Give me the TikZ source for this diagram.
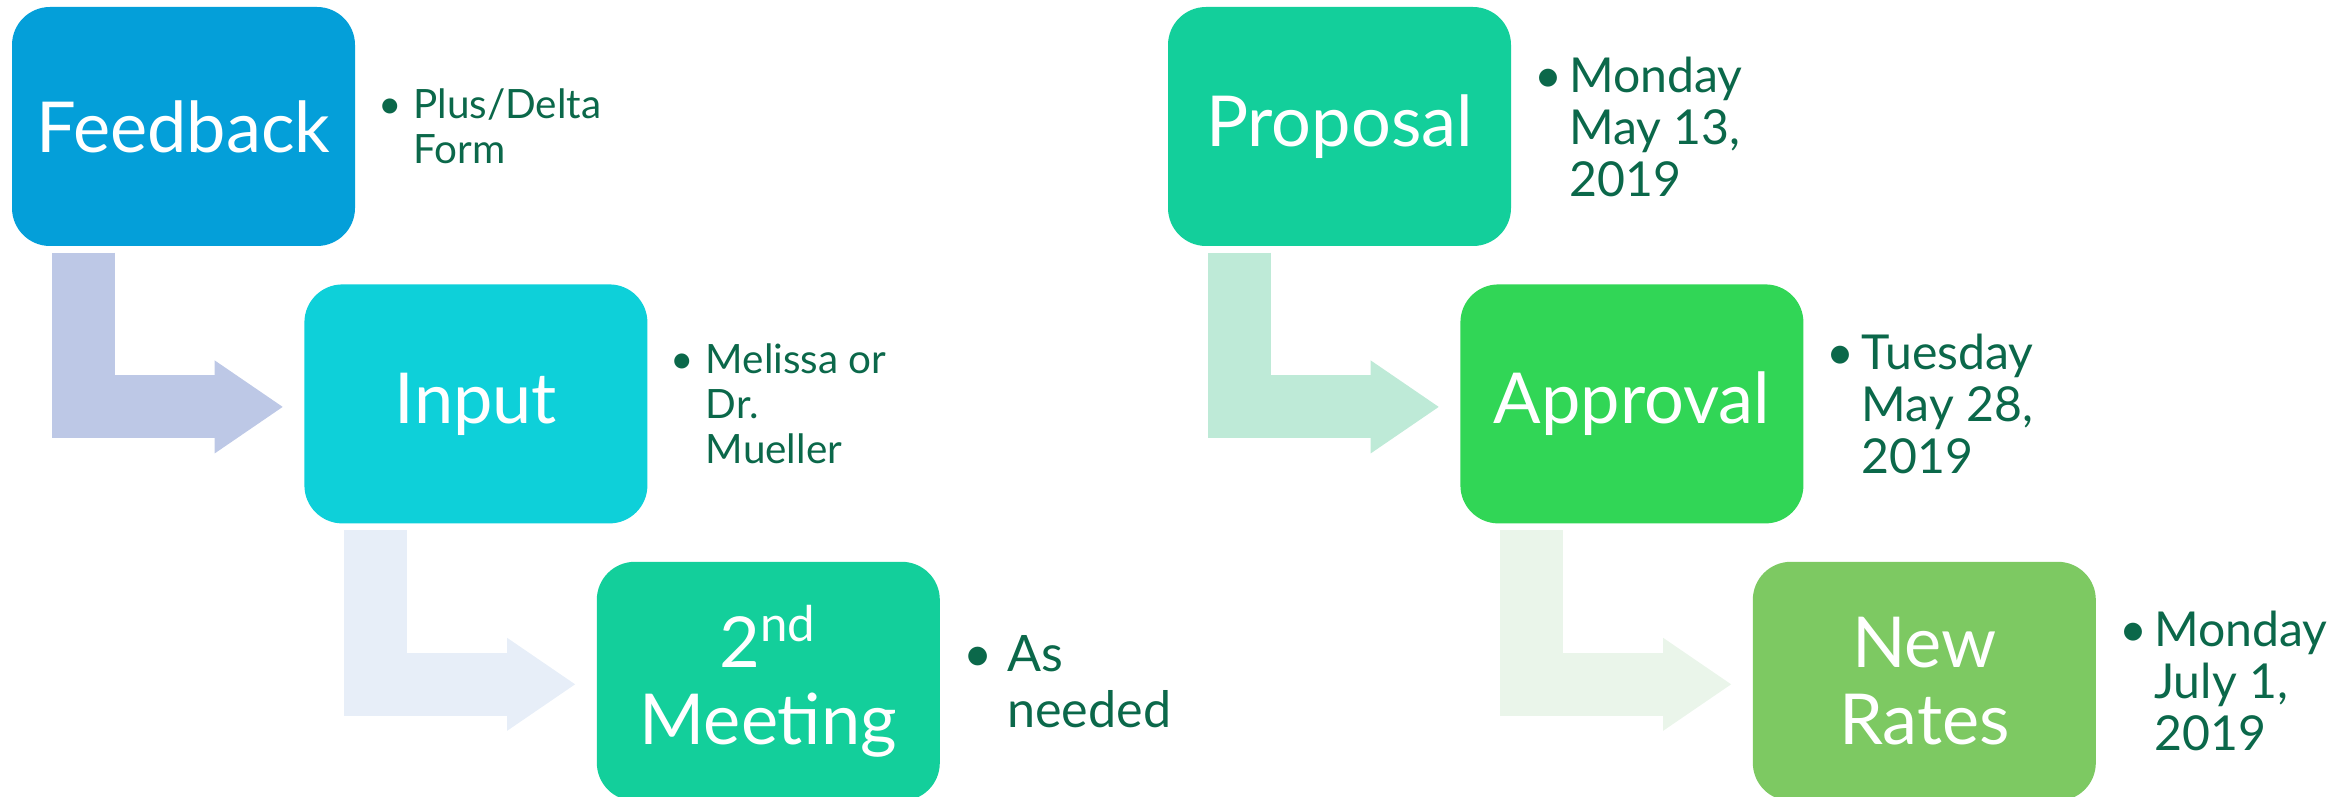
\documentclass[tikz,border=0pt]{standalone}
\usepackage{fontspec}
\setmainfont{Lato}
\usetikzlibrary{positioning,arrows.meta}

\definecolor{boxA}{RGB}{4,159,217}
\definecolor{boxB}{RGB}{14,208,217}
\definecolor{boxC}{RGB}{19,207,155}
\definecolor{boxD}{RGB}{49,214,86}
\definecolor{boxE}{RGB}{125,201,98}
\definecolor{arrA}{RGB}{189,200,230}
\definecolor{arrB}{RGB}{231,238,248}
\definecolor{arrC}{RGB}{190,234,215}
\definecolor{arrD}{RGB}{234,245,234}
\definecolor{notegreen}{RGB}{11,104,74}

\newcommand{\bul}[1][0.35cm]{\makebox[#1][l]{\textbullet}}
\newcommand{\ind}[1][0.35cm]{\hspace*{#1}}

\tikzset{
  stepbox/.style={rounded corners=0.38cm, minimum width=3.43cm, minimum height=2.39cm,
    inner sep=0pt, align=center, text=white, font=\fontsize{20}{22}\selectfont},
  note/.style={inner sep=0pt, align=left, text=notegreen, font=\fontsize{11.5}{12.8}\selectfont},
  bignote/.style={note, font=\fontsize{13.7}{14.8}\selectfont},
  flow/.style={line width=0.63cm, line join=miter,
    -{Triangle[length=0.68cm, width=0.93cm, line width=0pt]}}
}

\begin{document}
\begin{tikzpicture}
\useasboundingbox (0,0) rectangle (23.38,-7.97);

% left chain
\node[stepbox, fill=boxA] (fb) at (1.835,-1.265) {Feedback};
\node[stepbox, fill=boxB, below right=0.37cm and -0.52cm of fb] (in) {Input};
\node[stepbox, fill=boxC, below right=0.37cm and -0.52cm of in] (mt) {2\textsuperscript{nd}\\Meeting};

\node[note, right=0.22cm of fb] (fbnote) {\bul Plus/Delta\\\ind Form};
\node[note, right=0.22cm of in] (innote) {\bul Melissa or\\\ind Dr.\\\ind Mueller};
\node[note, font=\fontsize{14.3}{15.9}\selectfont, right=0.22cm of mt] (mtnote) {\bul[0.44cm]As\\\ind[0.44cm]needed};

\draw[flow, arrA] ([xshift=0.72cm, yshift=-0.06cm]fb.south west) |- ([xshift=-0.21cm, yshift=-0.03cm]in.west);
\draw[flow, arrB] ([xshift=0.72cm, yshift=-0.06cm]in.south west) |- ([xshift=-0.21cm, yshift=-0.03cm]mt.west);

% right chain
\node[stepbox, fill=boxC] (pr) at (13.395,-1.265) {Proposal};
\node[stepbox, fill=boxD, below right=0.37cm and -0.52cm of pr] (ap) {Approval};
\node[stepbox, fill=boxE, below right=0.37cm and -0.52cm of ap] (nr) {New\\Rates};

\node[bignote, right=0.22cm of pr] (prnote) {\bul Monday\\\ind May 13,\\\ind 2019};
\node[bignote, right=0.22cm of ap] (apnote) {\bul Tuesday\\\ind May 28,\\\ind 2019};
\node[bignote, right=0.22cm of nr] (nrnote) {\bul Monday\\\ind July 1,\\\ind 2019};

\draw[flow, arrC] ([xshift=0.72cm, yshift=-0.06cm]pr.south west) |- ([xshift=-0.21cm, yshift=-0.03cm]ap.west);
\draw[flow, arrD] ([xshift=0.72cm, yshift=-0.06cm]ap.south west) |- ([xshift=-0.21cm, yshift=-0.03cm]nr.west);
\end{tikzpicture}
\end{document}
